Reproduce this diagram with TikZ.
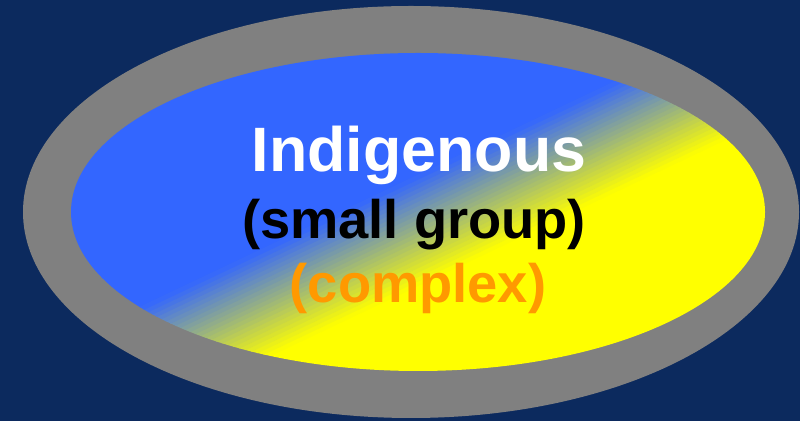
\documentclass[tikz,border=0pt]{standalone}
\usepackage{fontspec}
\setmainfont{Liberation Sans}
\definecolor{bgnavy}{RGB}{12,42,94}
\definecolor{ringgray}{RGB}{128,128,128}
\definecolor{fillblue}{RGB}{51,102,255}
\definecolor{fillyellow}{RGB}{255,255,0}
\definecolor{txtorange}{RGB}{255,153,0}
\tikzset{
  lbl/.style={inner sep=0pt, anchor=base, font=\bfseries},
}
\begin{document}
\begin{tikzpicture}[x=0.02cm,y=0.02cm]
\fill[bgnavy] (0,0) rectangle (800,-421);
\useasboundingbox (0,0) rectangle (800,-421);
% outer gray ring
\fill[ringgray] (411,-212) ellipse [x radius=388, y radius=206];
% inner gradient ellipse
\begin{scope}
  \clip (418,-212) ellipse [x radius=347, y radius=159];
  \begin{scope}[shift={(418,-212)}, rotate=25.4]
    \fill[fillblue] (-600,33) rectangle (600,500);
    \fill[fillyellow] (-600,-66) rectangle (600,-500);
    \foreach \i in {0,...,24}{
      \pgfmathsetmacro{\p}{100*(\i+0.5)/25}
      \fill[fillblue!\p!fillyellow] (-600,{-66.5+4*\i-0.3}) rectangle (600,{-66.5+4*(\i+1)+0.3});
    }
  \end{scope}
\end{scope}
% texts
\node[lbl, text=white, font=\bfseries\fontsize{35.7}{40}\selectfont] (t1) at (419,-172) {Indigenous};
\node[lbl, text=black, font=\bfseries\fontsize{30.9}{36}\selectfont] (t2) at (414,-239) {(small group)};
\node[lbl, text=txtorange, font=\bfseries\fontsize{30.9}{36}\selectfont] (t3) at (418,-303) {(complex)};
\end{tikzpicture}
\end{document}
